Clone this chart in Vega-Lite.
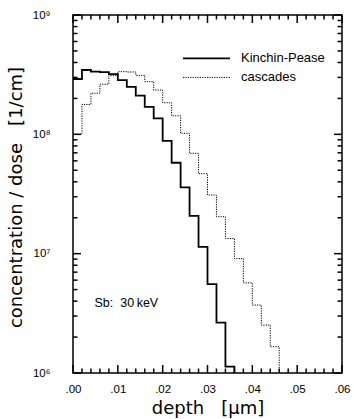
{
  "$schema": "https://vega.github.io/schema/vega-lite/v6.json",
  "width": 269,
  "height": 358,
  "autosize": {"type": "none"},
  "padding": {"left": 73, "top": 15, "right": 12, "bottom": 46},
  "config": {
    "view": {"stroke": "black", "strokeWidth": 1.5},
    "font": "DejaVu Sans",
    "axis": {"grid": false, "domain": false, "ticks": false, "labelColor": "black", "titleColor": "black", "labelFont": "Liberation Sans", "labelFontSize": 11.5, "titleFont": "DejaVu Sans", "titleFontWeight": "normal", "titleFontSize": 18}
  },
  "datasets": {
    "profiles": [
      {"depth": 0.000, "value": 2.91e8, "series": "Kinchin-Pease"},
      {"depth": 0.002, "value": 3.46e8, "series": "Kinchin-Pease"},
      {"depth": 0.004, "value": 3.35e8, "series": "Kinchin-Pease"},
      {"depth": 0.006, "value": 3.32e8, "series": "Kinchin-Pease"},
      {"depth": 0.008, "value": 3.2e8, "series": "Kinchin-Pease"},
      {"depth": 0.010, "value": 2.85e8, "series": "Kinchin-Pease"},
      {"depth": 0.012, "value": 2.5e8, "series": "Kinchin-Pease"},
      {"depth": 0.014, "value": 2.11e8, "series": "Kinchin-Pease"},
      {"depth": 0.016, "value": 1.7e8, "series": "Kinchin-Pease"},
      {"depth": 0.018, "value": 1.36e8, "series": "Kinchin-Pease"},
      {"depth": 0.020, "value": 8.8e7, "series": "Kinchin-Pease"},
      {"depth": 0.022, "value": 5.78e7, "series": "Kinchin-Pease"},
      {"depth": 0.024, "value": 3.6e7, "series": "Kinchin-Pease"},
      {"depth": 0.026, "value": 2.07e7, "series": "Kinchin-Pease"},
      {"depth": 0.028, "value": 1.14e7, "series": "Kinchin-Pease"},
      {"depth": 0.030, "value": 5.56e6, "series": "Kinchin-Pease"},
      {"depth": 0.032, "value": 2.64e6, "series": "Kinchin-Pease"},
      {"depth": 0.034, "value": 1.13e6, "series": "Kinchin-Pease"},
      {"depth": 0.036, "value": 1e6, "series": "Kinchin-Pease"},
      {"depth": 0.000, "value": 1.0e8, "series": "cascades"},
      {"depth": 0.002, "value": 1.78e8, "series": "cascades"},
      {"depth": 0.004, "value": 2.21e8, "series": "cascades"},
      {"depth": 0.006, "value": 2.63e8, "series": "cascades"},
      {"depth": 0.008, "value": 3.1e8, "series": "cascades"},
      {"depth": 0.010, "value": 3.35e8, "series": "cascades"},
      {"depth": 0.012, "value": 3.33e8, "series": "cascades"},
      {"depth": 0.014, "value": 3.12e8, "series": "cascades"},
      {"depth": 0.016, "value": 2.76e8, "series": "cascades"},
      {"depth": 0.018, "value": 2.35e8, "series": "cascades"},
      {"depth": 0.020, "value": 1.84e8, "series": "cascades"},
      {"depth": 0.022, "value": 1.43e8, "series": "cascades"},
      {"depth": 0.024, "value": 1.02e8, "series": "cascades"},
      {"depth": 0.026, "value": 6.93e7, "series": "cascades"},
      {"depth": 0.028, "value": 4.68e7, "series": "cascades"},
      {"depth": 0.030, "value": 3.1e7, "series": "cascades"},
      {"depth": 0.032, "value": 2.04e7, "series": "cascades"},
      {"depth": 0.034, "value": 1.34e7, "series": "cascades"},
      {"depth": 0.036, "value": 9.1e6, "series": "cascades"},
      {"depth": 0.038, "value": 5.7e6, "series": "cascades"},
      {"depth": 0.040, "value": 3.71e6, "series": "cascades"},
      {"depth": 0.042, "value": 2.52e6, "series": "cascades"},
      {"depth": 0.044, "value": 1.66e6, "series": "cascades"},
      {"depth": 0.046, "value": 1e6, "series": "cascades"}
    ],
    "xticks": [
      {"pos": 0.000, "kind": "major"}, {"pos": 0.002, "kind": "minor"}, {"pos": 0.004, "kind": "minor"}, {"pos": 0.006, "kind": "minor"}, {"pos": 0.008, "kind": "minor"},
      {"pos": 0.010, "kind": "major"}, {"pos": 0.012, "kind": "minor"}, {"pos": 0.014, "kind": "minor"}, {"pos": 0.016, "kind": "minor"}, {"pos": 0.018, "kind": "minor"},
      {"pos": 0.020, "kind": "major"}, {"pos": 0.022, "kind": "minor"}, {"pos": 0.024, "kind": "minor"}, {"pos": 0.026, "kind": "minor"}, {"pos": 0.028, "kind": "minor"},
      {"pos": 0.030, "kind": "major"}, {"pos": 0.032, "kind": "minor"}, {"pos": 0.034, "kind": "minor"}, {"pos": 0.036, "kind": "minor"}, {"pos": 0.038, "kind": "minor"},
      {"pos": 0.040, "kind": "major"}, {"pos": 0.042, "kind": "minor"}, {"pos": 0.044, "kind": "minor"}, {"pos": 0.046, "kind": "minor"}, {"pos": 0.048, "kind": "minor"},
      {"pos": 0.050, "kind": "major"}, {"pos": 0.052, "kind": "minor"}, {"pos": 0.054, "kind": "minor"}, {"pos": 0.056, "kind": "minor"}, {"pos": 0.058, "kind": "minor"},
      {"pos": 0.060, "kind": "major"}
    ],
    "yticks": [
      {"pos": 1e6, "kind": "major"}, {"pos": 2e6, "kind": "minor"}, {"pos": 3e6, "kind": "minor"}, {"pos": 4e6, "kind": "minor"}, {"pos": 5e6, "kind": "minor"}, {"pos": 6e6, "kind": "minor"}, {"pos": 7e6, "kind": "minor"}, {"pos": 8e6, "kind": "minor"}, {"pos": 9e6, "kind": "minor"},
      {"pos": 1e7, "kind": "major"}, {"pos": 2e7, "kind": "minor"}, {"pos": 3e7, "kind": "minor"}, {"pos": 4e7, "kind": "minor"}, {"pos": 5e7, "kind": "minor"}, {"pos": 6e7, "kind": "minor"}, {"pos": 7e7, "kind": "minor"}, {"pos": 8e7, "kind": "minor"}, {"pos": 9e7, "kind": "minor"},
      {"pos": 1e8, "kind": "major"}, {"pos": 2e8, "kind": "minor"}, {"pos": 3e8, "kind": "minor"}, {"pos": 4e8, "kind": "minor"}, {"pos": 5e8, "kind": "minor"}, {"pos": 6e8, "kind": "minor"}, {"pos": 7e8, "kind": "minor"}, {"pos": 8e8, "kind": "minor"}, {"pos": 9e8, "kind": "minor"},
      {"pos": 1e9, "kind": "major"}
    ]
  },
  "layer": [
    {
      "data": {"name": "profiles"},
      "mark": {"type": "line", "interpolate": "step-after", "color": "black", "clip": true},
      "encoding": {
        "x": {"field": "depth", "type": "quantitative",
          "scale": {"domain": [0, 0.06], "nice": false, "zero": false},
          "axis": {"orient": "bottom", "title": "depth\u00a0\u00a0\u00a0[µm]", "titleBaseline": "alphabetic", "titleY": 40,
            "values": [0, 0.01, 0.02, 0.03, 0.04, 0.05, 0.06],
            "labelExpr": "replace(format(datum.value, '.2f'), '0.', '.')",
            "labelPadding": 10, "labelDx": -3, "labelFlush": false, "labelOverlap": false}},
        "y": {"field": "value", "type": "quantitative",
          "scale": {"type": "log", "domain": [1e6, 1e9], "nice": false},
          "axis": {"orient": "left", "title": "concentration / dose\u00a0\u00a0\u00a0[1/cm]", "titleY": 182, "titlePadding": 7,
            "values": [1e6, 1e7, 1e8, 1e9],
            "labelExpr": "datum.value == 1e9 ? '10⁹' : datum.value == 1e8 ? '10⁸' : datum.value == 1e7 ? '10⁷' : '10⁶'",
            "labelPadding": 23, "labelOverlap": false, "labelFlush": false}},
        "strokeDash": {"field": "series", "type": "nominal",
          "scale": {"domain": ["Kinchin-Pease", "cascades"], "range": [[1, 0], [1.2, 1.2]]}, "legend": null},
        "strokeWidth": {"field": "series", "type": "nominal",
          "scale": {"domain": ["Kinchin-Pease", "cascades"], "range": [1.8, 1]}, "legend": null}
      }
    },
    {
      "data": {"name": "xticks"},
      "transform": [{"filter": "datum.kind == 'major'"}],
      "mark": {"type": "rule", "color": "black", "strokeWidth": 1.5},
      "encoding": {"x": {"field": "pos", "type": "quantitative"}, "y": {"datum": 1e6, "type": "quantitative"}, "y2": {"datum": 1.167e6}}
    },
    {
      "data": {"name": "xticks"},
      "transform": [{"filter": "datum.kind == 'minor'"}],
      "mark": {"type": "rule", "color": "black", "strokeWidth": 1.5},
      "encoding": {"x": {"field": "pos", "type": "quantitative"}, "y": {"datum": 1e6, "type": "quantitative"}, "y2": {"datum": 1.09e6}}
    },
    {
      "data": {"name": "xticks"},
      "transform": [{"filter": "datum.kind == 'major'"}],
      "mark": {"type": "rule", "color": "black", "strokeWidth": 1.5},
      "encoding": {"x": {"field": "pos", "type": "quantitative"}, "y": {"datum": 1e9, "type": "quantitative"}, "y2": {"datum": 8.57e8}}
    },
    {
      "data": {"name": "xticks"},
      "transform": [{"filter": "datum.kind == 'minor'"}],
      "mark": {"type": "rule", "color": "black", "strokeWidth": 1.5},
      "encoding": {"x": {"field": "pos", "type": "quantitative"}, "y": {"datum": 1e9, "type": "quantitative"}, "y2": {"datum": 9.17e8}}
    },
    {
      "data": {"name": "yticks"},
      "transform": [{"filter": "datum.kind == 'major'"}],
      "mark": {"type": "rule", "color": "black", "strokeWidth": 1.5},
      "encoding": {"y": {"field": "pos", "type": "quantitative"}, "x": {"datum": 0, "type": "quantitative"}, "x2": {"datum": 0.00178}}
    },
    {
      "data": {"name": "yticks"},
      "transform": [{"filter": "datum.kind == 'minor'"}],
      "mark": {"type": "rule", "color": "black", "strokeWidth": 1.5},
      "encoding": {"y": {"field": "pos", "type": "quantitative"}, "x": {"datum": 0, "type": "quantitative"}, "x2": {"datum": 0.001}}
    },
    {
      "data": {"name": "yticks"},
      "transform": [{"filter": "datum.kind == 'major'"}],
      "mark": {"type": "rule", "color": "black", "strokeWidth": 1.5},
      "encoding": {"y": {"field": "pos", "type": "quantitative"}, "x": {"datum": 0.06, "type": "quantitative"}, "x2": {"datum": 0.05822}}
    },
    {
      "data": {"name": "yticks"},
      "transform": [{"filter": "datum.kind == 'minor'"}],
      "mark": {"type": "rule", "color": "black", "strokeWidth": 1.5},
      "encoding": {"y": {"field": "pos", "type": "quantitative"}, "x": {"datum": 0.06, "type": "quantitative"}, "x2": {"datum": 0.059}}
    },
    {
      "data": {"values": [{"series": "Kinchin-Pease"}]},
      "mark": {"type": "rule", "color": "black", "strokeWidth": 1.8},
      "encoding": {
        "x": {"datum": 0.02454, "type": "quantitative"},
        "x2": {"datum": 0.03502},
        "y": {"datum": 4.33e8, "type": "quantitative"}
      }
    },
    {
      "data": {"values": [{"series": "cascades"}]},
      "mark": {"type": "rule", "color": "black", "strokeWidth": 1, "strokeDash": [1.2, 1.2]},
      "encoding": {
        "x": {"datum": 0.02454, "type": "quantitative"},
        "x2": {"datum": 0.03502},
        "y": {"datum": 3.0e8, "type": "quantitative"}
      }
    },
    {
      "data": {"values": [{"label": "Kinchin-Pease"}]},
      "mark": {"type": "text", "align": "left", "baseline": "middle", "font": "Liberation Sans", "fontSize": 13, "color": "black"},
      "encoding": {
        "x": {"datum": 0.03747, "type": "quantitative"},
        "y": {"datum": 4.33e8, "type": "quantitative"},
        "text": {"field": "label"}
      }
    },
    {
      "data": {"values": [{"label": "cascades"}]},
      "mark": {"type": "text", "align": "left", "baseline": "middle", "font": "Liberation Sans", "fontSize": 13, "color": "black"},
      "encoding": {
        "x": {"datum": 0.03747, "type": "quantitative"},
        "y": {"datum": 3.0e8, "type": "quantitative"},
        "text": {"field": "label"}
      }
    },
    {
      "data": {"values": [{"label": "Sb:\u00a0\u00a030\u2009keV"}]},
      "mark": {"type": "text", "align": "left", "baseline": "middle", "font": "Liberation Sans", "fontSize": 12.5, "color": "black"},
      "encoding": {
        "x": {"datum": 0.0048, "type": "quantitative"},
        "y": {"datum": 3.86e6, "type": "quantitative"},
        "text": {"field": "label"}
      }
    }
  ]
}
